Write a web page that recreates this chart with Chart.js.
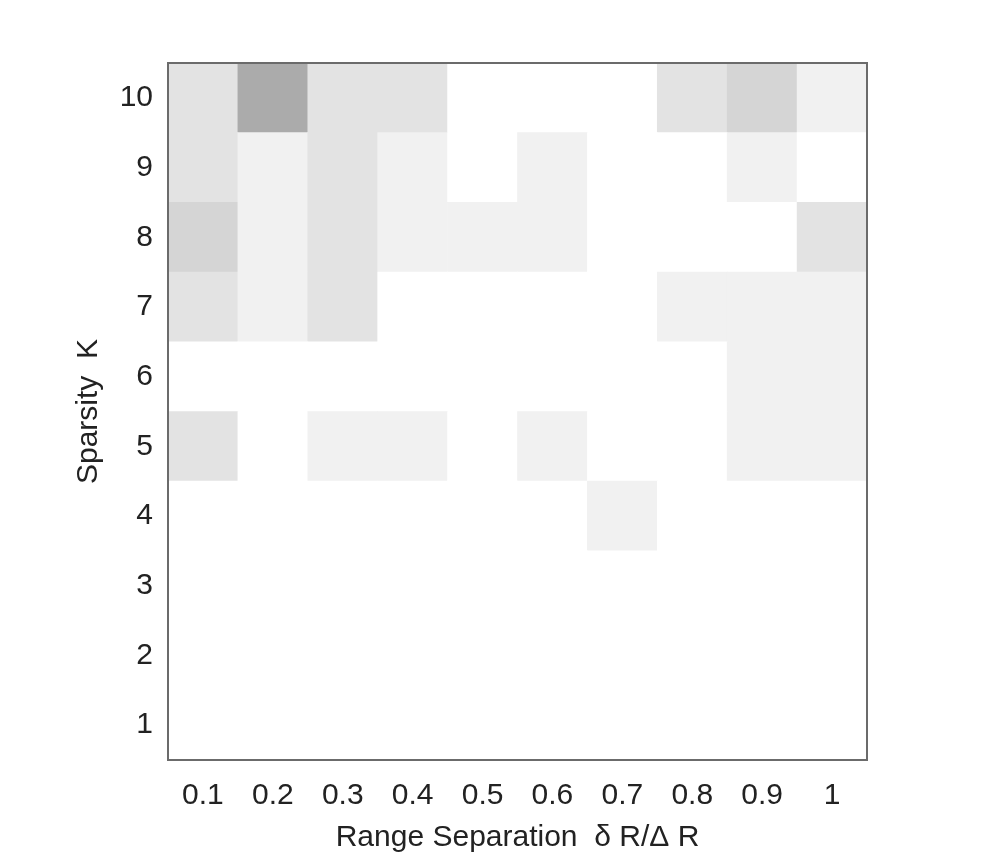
<!DOCTYPE html>
<html>
<head>
<meta charset="utf-8">
<script src="https://cdn.jsdelivr.net/npm/chart.js@4.4.1/dist/chart.umd.min.js"></script>
<style>
  body { margin: 0; background: #fff; }
  #wrap { width: 1000px; height: 856px; }
</style>
</head>
<body>
<div id="wrap"><canvas id="myChart"></canvas></div>
<script>
// x categories (range separation) and y ticks (sparsity K)
const separations = ['0.1', '0.2', '0.3', '0.4', '0.5', '0.6', '0.7', '0.8', '0.9', '1'];
const sparsityTicks = [1, 2, 3, 4, 5, 6, 7, 8, 9, 10];

// shade level of each cell (0 = white, higher = darker), one row per K
const rowK1  = [0, 0, 0, 0, 0, 0, 0, 0, 0, 0];
const rowK2  = [0, 0, 0, 0, 0, 0, 0, 0, 0, 0];
const rowK3  = [0, 0, 0, 0, 0, 0, 0, 0, 0, 0];
const rowK4  = [0, 0, 0, 0, 0, 0, 1, 0, 0, 0];
const rowK5  = [2, 0, 1, 1, 0, 1, 0, 0, 1, 1];
const rowK6  = [0, 0, 0, 0, 0, 0, 0, 0, 1, 1];
const rowK7  = [2, 1, 2, 0, 0, 0, 0, 1, 1, 1];
const rowK8  = [3, 1, 2, 1, 1, 1, 0, 0, 0, 2];
const rowK9  = [2, 1, 2, 1, 0, 1, 0, 0, 1, 0];
const rowK10 = [2, 6, 2, 2, 0, 0, 0, 2, 3, 1];

const rows = [rowK1, rowK2, rowK3, rowK4, rowK5, rowK6, rowK7, rowK8, rowK9, rowK10];

function shade(level) {
    const g = Math.round(255 - 14 * level);
    return 'rgb(' + g + ',' + g + ',' + g + ')';
}

// each row is a set of floating bars from K-0.5 to K+0.5
const datasets = rows.map((row, i) => {
    const k = sparsityTicks[i];
    return {
        label: 'K=' + k,
        data: row.map(() => [k - 0.5, k + 0.5]),
        backgroundColor: row.map(shade),
        borderWidth: 0,
        grouped: false,
        barPercentage: 1,
        categoryPercentage: 1
    };
});

// frame around the plot area
const frame = {
    id: 'frame',
    afterDraw(chart) {
        const a = chart.chartArea;
        const c = chart.ctx;
        c.save();
        c.strokeStyle = '#6b6b6b';
        c.lineWidth = 2;
        c.strokeRect(a.left, a.top, a.right - a.left, a.bottom - a.top);
        c.restore();
    }
};

const font = { family: '"Liberation Sans", Arial, sans-serif', size: 30 };

const ctx = document.getElementById('myChart');

new Chart(ctx, {
    type: 'bar',
    data: {
        labels: separations,
        datasets: datasets
    },
    plugins: [frame],
    options: {
        responsive: true,
        maintainAspectRatio: false,
        animation: false,
        layout: { padding: { left: 0, right: 133, top: 63, bottom: 0 } },
        plugins: {
            legend: { display: false },
            tooltip: { enabled: false }
        },
        scales: {
            x: {
                grid: { display: false, drawTicks: false },
                border: { display: false },
                ticks: { color: '#222', font: font, padding: 18, maxRotation: 0 },
                title: {
                    display: true,
                    text: 'Range Separation  \u03b4 R/\u0394 R',
                    color: '#222',
                    font: font,
                    padding: { top: 0, bottom: 0 }
                },
                afterFit(scale) { scale.height = 96; }
            },
            y: {
                min: 0.5,
                max: 10.5,
                grid: { display: false, drawTicks: false },
                border: { display: false },
                ticks: { color: '#222', font: font, padding: 15 },
                afterBuildTicks(scale) {
                    scale.ticks = sparsityTicks.map(v => ({ value: v }));
                },
                title: {
                    display: true,
                    text: 'Sparsity  K',
                    color: '#222',
                    font: font,
                    padding: { top: 71, bottom: 0 }
                },
                afterFit(scale) { scale.width = 168; }
            }
        }
    }
});
</script>
</body>
</html>
